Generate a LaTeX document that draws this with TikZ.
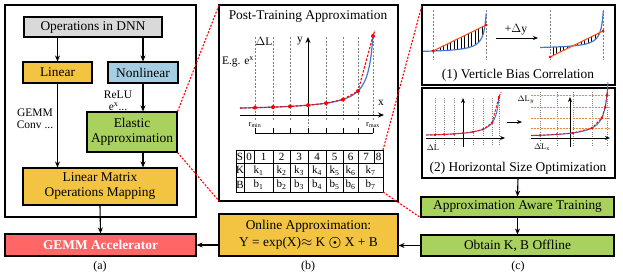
\documentclass[tikz,border=0pt]{standalone}
\usepackage{fontspec}
\setmainfont{Liberation Serif}
\usepackage{amsmath}
\usetikzlibrary{arrows.meta}
\definecolor{orng}{RGB}{242,196,66}
\definecolor{blu}{RGB}{166,206,227}
\definecolor{grn}{RGB}{169,209,94}
\definecolor{gemmred}{RGB}{255,102,102}
\definecolor{gry}{RGB}{217,217,217}
\definecolor{cblue}{RGB}{68,120,200}
\definecolor{oline}{RGB}{255,80,30}
\definecolor{ohor}{RGB}{230,140,60}
\begin{document}
\begin{tikzpicture}[x=1pt,y=-1pt, font=\fontsize{13.4}{15}\selectfont,
  bx/.style={draw, line width=1.1pt, inner sep=0pt, align=center},
  frame/.style={draw, line width=1.1pt},
  arr/.style={line width=1.1pt, -{Stealth[length=6pt,width=5pt]}},
  thinarr/.style={line width=0.9pt, -{Stealth[length=5pt,width=4pt]}},
  zoomln/.style={red, line width=1.1pt, dash pattern=on 2pt off 1.5pt},
  gdash/.style={gray, line width=0.7pt, dash pattern=on 2pt off 1.5pt},
  curve/.style={cblue, line width=1.2pt},
  rdash/.style={red, line width=1.1pt, dash pattern=on 2.5pt off 1.5pt},
  dot/.style={circle, fill=red, inner sep=0pt, minimum size=4pt},
  sdot/.style={circle, fill=red, inner sep=0pt, minimum size=3pt},
  small/.style={font=\fontsize{11.5}{12.5}\selectfont},
  tiny/.style={font=\fontsize{8.5}{9}\selectfont},
  subcap/.style={font=\fontsize{12}{13}\selectfont}]
\useasboundingbox (0,0) rectangle (623,276);

% ===== panel (a)
\draw[frame] (5,5) rectangle (196,217);
\node[bx, fill=gry, minimum width=138pt, minimum height=20pt] (ops) at (93,27) {Operations in DNN};
\node[bx, fill=orng, minimum width=69pt, minimum height=21pt] (lin) at (57.5,72.5) {Linear};
\node[bx, fill=blu, minimum width=70pt, minimum height=21pt] (nonlin) at (143,72.5) {Nonlinear};
\node[bx, fill=grn, minimum width=90pt, minimum height=40pt] (elastic) at (132,132) {Elastic\\Approximation};
\node[bx, fill=orng, minimum width=154pt, minimum height=37pt] (lmom) at (100,186.5) {Linear Matrix\\Operations Mapping};
\node[bx, fill=gemmred, minimum width=191pt, minimum height=22pt, text=white, font=\fontsize{13.4}{15}\selectfont\bfseries] (gemm) at (100.5,245) {GEMM Accelerator};
\node[small, align=center] (relu) at (118,101) {ReLU\\e\textsuperscript{x}...};
\node[small, align=center] (conv) at (35,119) {GEMM\\Conv ...};
\node[subcap] (capa) at (100,267) {(a)};

\draw[arr] (ops.south -| lin.north) -- (lin.north);
\draw[arr] (ops.south -| nonlin.north) -- (nonlin.north);
\draw[arr] (nonlin.south) -- (nonlin.south |- elastic.north);
\draw[arr] (lin.south) -- (lin.south |- lmom.north);
\draw[arr] (elastic.south -| nonlin.south) -- (nonlin.south |- lmom.north);
\draw[arr] (lmom.south) -- (gemm.north);

% ===== panel (b)
\draw[frame] (219,5) rectangle (398,201);
\node (pta) at (308,17) {Post-Training Approximation};
\foreach \xx in {255,273,290,326,343,358,373} {\draw[gdash] (\xx,37) -- (\xx,121);}
\draw[gdash] (308,115) -- (308,126);
\draw[arr, line width=1pt] (240,115) -- (384,115);
\draw[arr, line width=1pt] (308,115) -- (308,37);
\node[small] (ylab) at (300,41) {y};
\node[small] (xlab) at (381,103) {x};
\node[small] (dl) at (264,41) {$\Delta$L};
\node[small] (eg) at (238,62) {E.g. e\textsuperscript{x}};
\node[tiny] (rmin) at (255,125) {r\textsubscript{min}};
\node[tiny] (rmax) at (373,125) {r\textsubscript{max}};
\draw[line width=1pt] (255,133) -- (373,133);
\foreach \xx in {255,273,290,308,326,343,358,373} {\draw[line width=1pt] (\xx,133) -- (\xx,128);}
\draw[curve] plot[domain=240:373, samples=80, smooth] (\x,{111-409/(378.45-\x)});
\draw[rdash] (240,108) -- (255,107.7) -- (273,107.1) -- (290,106.4) -- (308,105.2) -- (326,103.2) -- (343,99.5) -- (358,91) -- (373,36) -- (375,30);
\foreach \xx/\yy in {255/107.7,273/107.1,290/106.4,308/105.2,326/103.2,343/99.5,358/91,373/36} {\node[dot] at (\xx,\yy) {};}

% table
\begin{scope}[line width=0.9pt]
\draw (236,150) rectangle (383,192);
\draw (236,163) -- (383,163);
\draw (236,177.5) -- (383,177.5);
\foreach \xx in {244,273,290,308,326,343,358} {\draw (\xx,150) -- (\xx,192);}
\draw (254,150) -- (254,163);
\draw (374,150) -- (374,163);
\end{scope}
\begin{scope}[font=\fontsize{11}{12}\selectfont]
\foreach \xx/\t in {240/S,249/0,263.5/1,281.5/2,299/3,317/4,334.5/5,350.5/6,366/7,378.5/8} {\node at (\xx,157) {\t};}
\node at (240,170) {K};
\node at (240,185) {B};
\foreach \xx/\i in {258.5/1,281.5/2,299/3,317/4,334.5/5,350.5/6,370.5/7} {
  \node at (\xx,170.5) {k\textsubscript{\i}};
  \node at (\xx,185) {b\textsubscript{\i}};
}
\end{scope}

\node[bx, fill=orng, minimum width=179pt, minimum height=42pt, font=\fontsize{13.4}{17}\selectfont] (online) at (308.5,235) {Online Approximation:\\Y = exp(X)$\approx$ K $\boldsymbol{\odot}$ X + B};
\node[subcap] (capb) at (308,267) {(b)};

% ===== panel (c)
\draw[frame] (422,5) rectangle (615,85);
\draw[frame] (422,88) rectangle (615,178);
\node (c1) at (518,75) {(1) Verticle Bias Correlation};
\node (c2) at (518,168) {(2) Horizontal Size Optimization};
\node[bx, fill=grn, minimum width=193pt, minimum height=20pt] (aat) at (517.5,207) {Approximation Aware Training};
\node[bx, fill=grn, minimum width=193pt, minimum height=21pt] (obt) at (517.5,245.5) {Obtain K, B Offline};
\node[subcap] (capc) at (518,267) {(c)};
\coordinate (c2bot) at (518,178);
\draw[arr] (c2bot) -- (aat.north);
\draw[arr] (aat.south) -- (obt.north);
\draw[arr] (obt.west) -- (obt.west -| online.east);
\draw[arr] (online.west |- gemm.east) -- (gemm.east);

% mini plot 1 left
\draw[gdash] (433,10) -- (433,60);
\draw[gdash] (486,10) -- (486,60);
\foreach \xx in {436.5,440,...,484} {\draw[line width=0.6pt] (\xx,{51-26*(\xx-433)/53}) -- (\xx,{53-111/(489-\xx)});}
\draw[curve] plot[domain=423:486.2, samples=60, smooth] (\x,{53-111/(489-\x)});
\draw[oline, line width=1.1pt] (433,51) -- (486,25);
\node[sdot] at (433,51) {};
\node[sdot] at (486,25) {};
% arrow +dy
\coordinate (ya) at (496,38);
\coordinate (yb) at (538,38);
\draw[thinarr] (ya) -- (yb);
\node[small] (dy) at (516,30) {+$\Delta$y};
% mini plot 1 right
\draw[gdash] (550,10) -- (550,60);
\draw[gdash] (603,10) -- (603,60);
\foreach \xx in {553,556.5,...,601} {\draw[line width=0.6pt] (\xx,{57-26*(\xx-550)/53}) -- (\xx,{49-102/(606-\xx)});}
\draw[curve] plot[domain=540:603.3, samples=60, smooth] (\x,{49-102/(606-\x)});
\draw[oline, line width=1.1pt] (550,57) -- (603,31);
\node[sdot] at (550,57) {};
\node[sdot] at (603,31) {};

% mini plot 2 left
\foreach \xx in {435,444,454,473,483,492,499} {\draw[gdash, dash pattern=on 1pt off 1.2pt] (\xx,98) -- (\xx,145);}
\draw[thinarr] (426,138) -- (505,138);
\draw[thinarr] (463,147) -- (463,98);
\draw[curve, line width=1pt] plot[domain=426:499, samples=60, smooth] (\x,{137-152/(502.8-\x)});
\draw[rdash, line width=0.9pt] (426,135) -- (435,134.8) -- (444,134.4) -- (454,133.9) -- (463,133.2) -- (473,131.9) -- (483,129.3) -- (492,122.9) -- (499,97) -- (501,92);
\foreach \xx/\yy in {435/134.8,444/134.4,454/133.9,463/133.2,473/131.9,483/129.3,492/122.9,499/97} {\node[sdot, minimum size=2.6pt] at (\xx,\yy) {};}
\node[tiny] (dlx1) at (433,148) {$\Delta$L};
\coordinate (ma) at (507,122);
\coordinate (mb) at (522,122);
\draw[thinarr] (ma) -- (mb);

% mini plot 2 right
\foreach \xx in {540,557,573,592,607} {\draw[gdash, dash pattern=on 1pt off 1.2pt] (\xx,92) -- (\xx,145);}
\foreach \yy in {95,107,118,128} {\draw[ohor, line width=0.8pt, dash pattern=on 2pt off 1.2pt] (531,\yy) -- (610,\yy);}
\draw[thinarr] (531,138) -- (610,138);
\draw[thinarr] (570,147) -- (570,97);
\draw[curve, line width=1pt] plot[domain=531:608, samples=60, smooth] (\x,{138-195/(611.5-\x)});
\draw[rdash, line width=0.9pt] (531,135.3) -- (540,135.3) -- (557,134.4) -- (573,133) -- (592,128) -- (601.75,118) -- (605.2,107) -- (607,95) -- (608,88);
\foreach \xx/\yy in {540/135.3,557/134.4,573/133,592/128,601.75/118,605.2/107,607/95} {\node[sdot, minimum size=2.6pt] at (\xx,\yy) {};}
\node[tiny] (dly) at (526,100) {$\Delta$L\textsubscript{$y$}};
\node[tiny] (dlx) at (542,147) {$\Delta$L\textsubscript{x}};

% zoom lines
\draw[zoomln] (elastic.north east) -- (219,5);
\draw[zoomln] (elastic.south east) -- (219,201);
\draw[zoomln] (383,150) -- (422,5);
\draw[zoomln] (383,192) -- (aat.south west);
\end{tikzpicture}
\end{document}
